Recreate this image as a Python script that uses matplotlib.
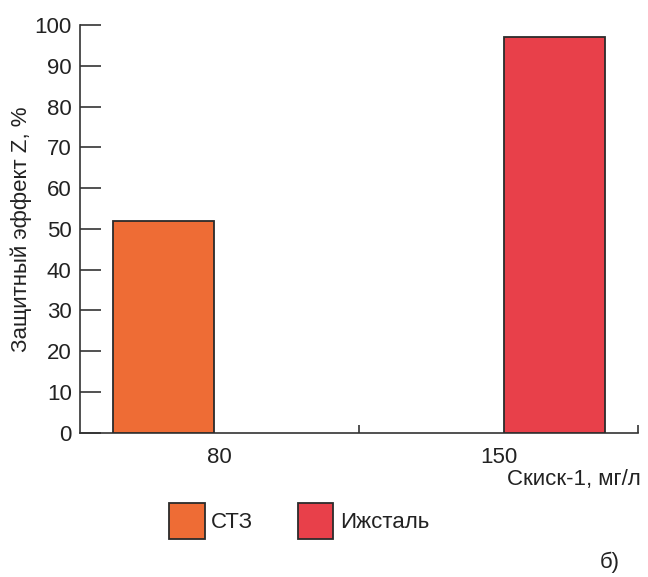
import numpy as np
import matplotlib
matplotlib.use('Agg')
import matplotlib.pyplot as plt
from matplotlib.patches import Patch

plt.rcParams['font.family'] = ['Liberation Sans', 'DejaVu Sans']

##############################
categories = ['80', '150']
series_names = ['СТЗ', 'Ижсталь']
stz_values = [52, 0]
izh_values = [0, 97]
y_ticks = [0, 10, 20, 30, 40, 50, 60, 70, 80, 90, 100]
##############################

colors = ['#EE6C35', '#E8404A']
edge = '#2b2b2b'

fig = plt.figure(figsize=(6.48, 5.77), dpi=100)
ax = fig.add_axes([80 / 648, 1 - 432.7 / 577, 558 / 648, 407.7 / 577])

x = np.arange(len(categories))
width = 0.36
for vals, off, c in [(stz_values, -0.2, colors[0]), (izh_values, 0.2, colors[1])]:
    for xi, v in zip(x, vals):
        if v > 0:
            ax.bar(xi + off, v, width, color=c, edgecolor=edge, linewidth=1.3, zorder=3)

ax.set_xlim(-0.5, 1.5)
ax.set_ylim(0, 100)
ax.set_yticks(y_ticks)
ax.set_yticklabels([str(t) for t in y_ticks], fontsize=16, color='#222222')
ax.set_xticks(x)
ax.set_xticklabels(categories, fontsize=16, color='#222222')
ax.set_xticks([0.5, 1.5], minor=True)

ax.tick_params(axis='y', direction='in', length=15, width=1.2, color='#333333', pad=6)
ax.tick_params(axis='x', which='major', length=0, pad=10)
ax.tick_params(axis='x', which='minor', direction='in', length=6, width=1.2, color='#333333')

for s in ['top', 'right']:
    ax.spines[s].set_visible(False)
for s in ['left', 'bottom']:
    ax.spines[s].set_linewidth(1.2)
    ax.spines[s].set_color('#333333')

ax.set_ylabel('Защитный эффект Z, %', fontsize=16, color='#222222', labelpad=2)

fig.text(641 / 648, 1 - 480 / 577, 'Скиск-1, мг/л', fontsize=16, color='#222222',
         ha='right', va='center')
fig.text(610 / 648, 1 - 573 / 577, 'б)', fontsize=16, color='#222222',
         ha='center', va='bottom')

handles = [Patch(facecolor=colors[0], edgecolor=edge, linewidth=1.3),
           Patch(facecolor=colors[1], edgecolor=edge, linewidth=1.3)]
fig.legend(handles, series_names, loc='upper left', bbox_to_anchor=(169 / 648, 1 - 503 / 577),
           ncol=2, frameon=False, fontsize=16, handlelength=1.6, handleheight=2.1,
           handletextpad=0.3, columnspacing=2.0, borderpad=0, borderaxespad=0,
           labelcolor='#222222')

fig.savefig('out.png', dpi=100)
